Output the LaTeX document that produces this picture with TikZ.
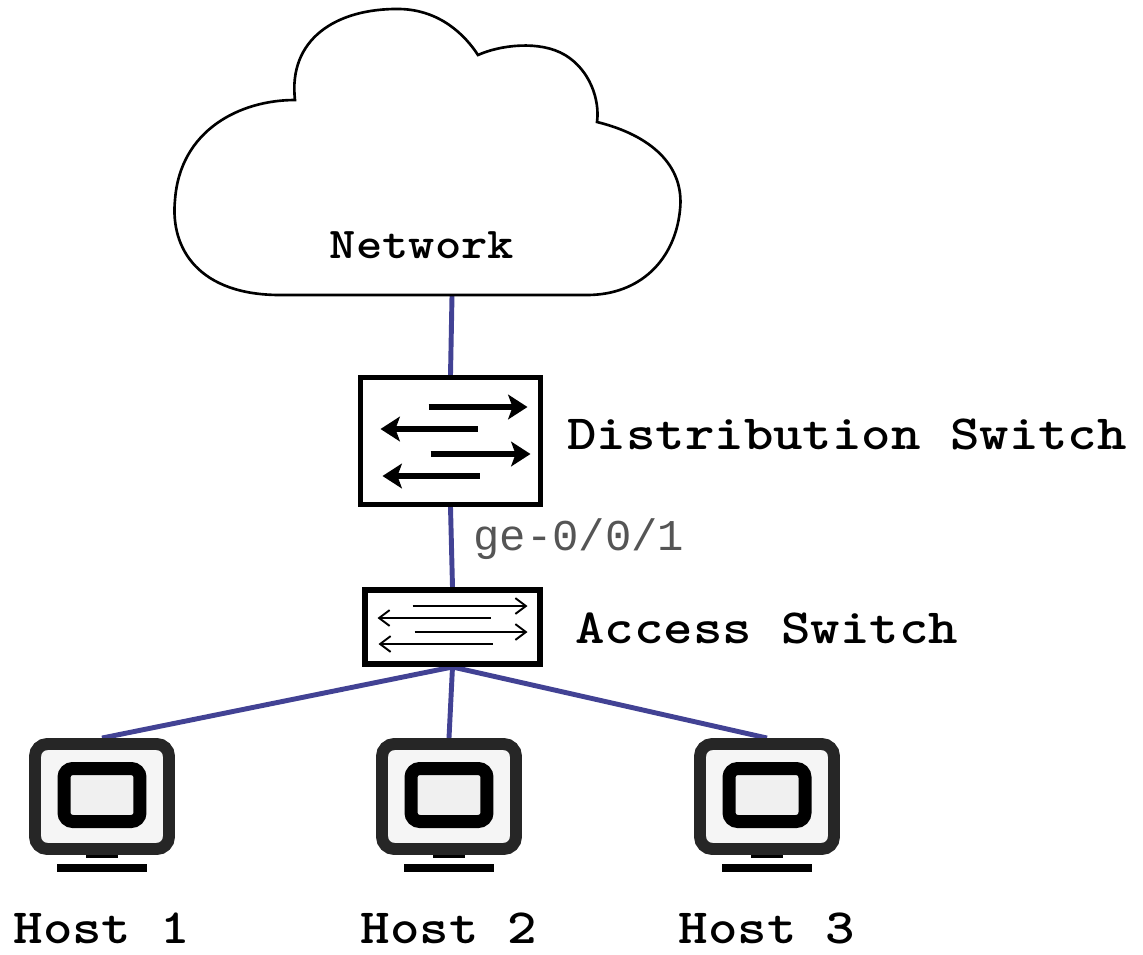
\documentclass[tikz,border=0pt]{standalone}
\usepackage{fontspec}
\usetikzlibrary{arrows.meta,calc,positioning,backgrounds}
\newfontfamily\labelfont{lmmonolt10-bold.otf}[FakeStretch=1.14]
\newfontfamily\portfont{Liberation Mono}
\usepackage{xcolor}
\definecolor{linkblue}{RGB}{66,66,148}
\definecolor{framegray}{RGB}{38,38,38}
\definecolor{portgray}{RGB}{85,85,85}

\begin{document}
\begin{tikzpicture}[x=0.02cm,y=-0.02cm,
    link/.style={line width=2.8pt,color=linkblue},
    switchbox/.style={draw,fill=white,inner sep=0pt},
    devname/.style={font=\labelfont\fontsize{28}{32}\selectfont,inner sep=0pt},
    bigarrow/.style={line width=3.4pt,-{Stealth[length=11pt,width=14pt,inset=2.5pt]}},
    thinarrow/.style={line width=1.1pt,-{Straight Barb[length=6pt,width=9pt]}},
    hostframe/.style={draw=framegray,fill=black!4,line width=6.8pt,rounded corners=7pt,minimum width=2.68cm,minimum height=2.1cm,inner sep=0pt},
    hostscreen/.style={draw=black,fill=black!6,line width=7.4pt,rounded corners=5pt,minimum width=1.52cm,minimum height=1.06cm,inner sep=0pt},
    hostfoot/.style={fill=black,inner sep=0pt}]

    \useasboundingbox (0,0) rectangle (1143,954);

    %cloud
    \draw [line width=1.5pt,fill=white] (280,295)
        .. controls (200,295) and (170,250) .. (175,200)
        .. controls (180,130) and (240,100) .. (295,100)
        .. controls (288,40) and (335,8) .. (400,9)
        .. controls (440,10) and (465,35) .. (478,55)
        .. controls (500,45) and (540,40) .. (565,55)
        .. controls (590,70) and (600,100) .. (597,122)
        .. controls (650,135) and (685,165) .. (680,210)
        .. controls (675,260) and (640,295) .. (587,295)
        -- cycle;
    \node [devname,font=\labelfont\fontsize{25}{30}\selectfont,anchor=base] (net) at (422,258) {Network};
    \coordinate (netb) at (452,296);

    %switches
    \node [switchbox,line width=2.8pt,minimum width=3.6cm,minimum height=2.54cm] (dist) at (450.5,441) {};
    \draw [bigarrow] ([shift={(-22,-34)}]dist.center) -- ([shift={(77,-34)}]dist.center);
    \draw [bigarrow] ([shift={(27,-12)}]dist.center) -- ([shift={(-70,-12)}]dist.center);
    \draw [bigarrow] ([shift={(-20,13)}]dist.center) -- ([shift={(80,13)}]dist.center);
    \draw [bigarrow] ([shift={(29,35)}]dist.center) -- ([shift={(-68,35)}]dist.center);
    \node [devname,anchor=base west] (distname) at (567,449) {Distribution Switch};

    \node [switchbox,line width=3.4pt,minimum width=3.5cm,minimum height=1.48cm] (acc) at (452.5,627) {};
    \draw [thinarrow] ([shift={(-40,-21)}]acc.center) -- ([shift={(75,-21)}]acc.center);
    \draw [thinarrow] ([shift={(38,-9)}]acc.center) -- ([shift={(-75,-9)}]acc.center);
    \draw [thinarrow] ([shift={(-38,5)}]acc.center) -- ([shift={(75,5)}]acc.center);
    \draw [thinarrow] ([shift={(40,17)}]acc.center) -- ([shift={(-74,17)}]acc.center);
    \node [devname,anchor=base west] (accname) at (575,643) {Access Switch};

    \node [font=\portfont\fontsize{25}{30}\selectfont,color=portgray,anchor=base west,inner sep=0pt] (port) at (473,550) {ge-0/0/1};

    %hosts
    \foreach \cx/\n in {102/1,449/2,767/3}{
        \node [hostfoot,minimum width=0.64cm,minimum height=0.18cm] (stand\n) at (\cx,853.5) {};
        \node [hostfoot,minimum width=1.8cm,minimum height=0.16cm] (base\n) at (\cx,868) {};
        \node [hostframe] (host\n) at (\cx,796.5) {};
        \node [hostscreen] (screen\n) at (\cx,795) {};
        \node [devname,anchor=base] (hostname\n) at (\cx,943) {Host \n};
    }

    %links
    \begin{scope}[on background layer]
        \draw [link] (netb) -- (dist.north);
        \draw [link] (dist.south) -- (acc.north);
        \foreach \n in {1,2,3}{
            \draw [link] (acc.south) -- (host\n.north);
        }
    \end{scope}
\end{tikzpicture}
\end{document}
